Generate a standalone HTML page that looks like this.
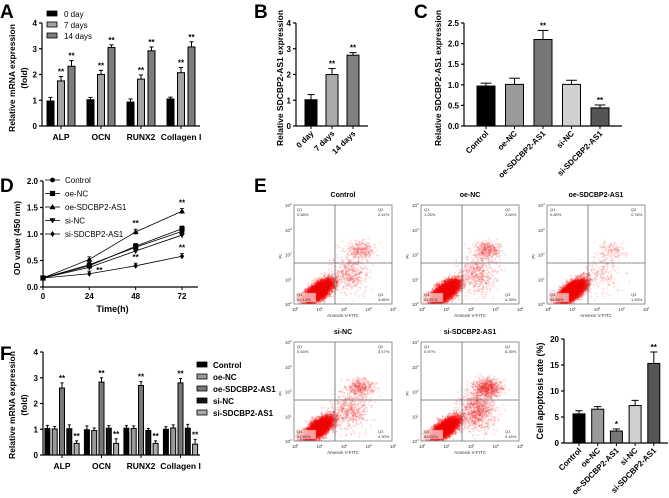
<!DOCTYPE html>
<html><head><meta charset="utf-8">
<style>
html,body{margin:0;padding:0;background:#fff;}
#wrap{position:relative;width:669px;height:498px;overflow:hidden;font-family:"Liberation Sans",Arial,sans-serif;}
svg{position:absolute;left:0;top:0;z-index:2;}
canvas{position:absolute;z-index:1;}
</style></head>
<body>
<div id="wrap">
<svg id="svg" width="669" height="498" viewBox="0 0 669 498"></svg>
</div>
<script>
// ---- Panel A data ----
const aGroups = ["ALP","OCN","RUNX2","Collagen I"];
const aSeries = ["0 day","7 days","14 days"];
const aValues = [[0.97,1.75,2.32],[1.02,2.0,3.05],[0.93,1.82,2.92],[1.05,2.07,3.07]];
const aErrors = [[0.14,0.17,0.22],[0.09,0.16,0.1],[0.12,0.16,0.15],[0.07,0.2,0.2]];
const aStars = [["","**","**"],["","**","**"],["","**","**"],["","**","**"]];
const aTicks = [0,1,2,3,4];
// ---- Panel B data ----
const bCats = ["0 day","7 days","14 days"];
const bValues = [1.02,2.0,2.75];
const bErrors = [0.2,0.23,0.1];
const bStars = ["","**","**"];
const bTicks = [0,1,2,3,4];
// ---- Panel C data ----
const cCats = ["Control","oe-NC","oe-SDCBP2-AS1","si-NC","si-SDCBP2-AS1"];
const cValues = [0.97,1.01,2.1,1.01,0.44];
const cErrors = [0.07,0.15,0.22,0.1,0.07];
const cStars = ["","","**","","**"];
const cTicks = [0,0.5,1.0,1.5,2.0,2.5];
// ---- Panel D data ----
const dTimes = [0,24,48,72];
const dSeries = ["Control","oe-NC","oe-SDCBP2-AS1","si-NC","si-SDCBP2-AS1"];
const dControl = [0.17,0.42,0.75,1.05];
const dOeNC = [0.17,0.40,0.77,1.10];
const dOeSD = [0.17,0.52,1.04,1.43];
const dSiNC = [0.17,0.37,0.68,0.98];
const dSiSD = [0.17,0.25,0.40,0.58];
const dYTicks = [0,0.5,1.0,1.5,2.0];
// ---- Panel E data ----
const eTitles = ["Control","oe-NC","oe-SDCBP2-AS1","si-NC","si-SDCBP2-AS1"];
const eQ1 = ["0.58%","1.26%","0.85%","0.64%","0.97%"];
const eQ2 = ["2.42%","2.84%","0.76%","3.17%","6.25%"];
const eQ3 = ["3.86%","4.39%","1.53%","4.30%","9.16%"];
const eQ4 = ["93.14%","91.51%","96.86%","91.89%","83.62%"];
const eRateValues = [5.6,6.5,2.3,7.2,15.3];
const eRateErrors = [0.6,0.5,0.4,1.0,2.2];
const eRateStars = ["","","*","","**"];
const eRateTicks = [0,5,10,15,20];
// ---- Panel F data ----
const fGroups = ["ALP","OCN","RUNX2","Collagen I"];
const fValues = [[1.03,1.01,2.6,1.02,0.45],[0.98,0.95,2.83,1.04,0.45],[1.04,1.03,2.7,0.95,0.45],[1.0,1.05,2.8,1.04,0.42]];
const fErrors = [[0.12,0.1,0.2,0.15,0.1],[0.15,0.1,0.17,0.1,0.18],[0.1,0.1,0.15,0.08,0.1],[0.1,0.12,0.17,0.15,0.18]];
const fStars = ["","","**","","**"];
const fTicks = [0,1,2,3,4];

const NS="http://www.w3.org/2000/svg";
const svg=document.getElementById('svg');
function el(tag,attrs,parent){const e=document.createElementNS(NS,tag);for(const k in attrs)e.setAttribute(k,attrs[k]);(parent||svg).appendChild(e);return e;}
function txt(s,x,y,opts,parent){const t=el('text',Object.assign({x:x,y:y,'font-family':'Liberation Sans, Arial, sans-serif','font-size':8,fill:'#000'},opts||{}),parent);t.textContent=s;return t;}
function lin(sc0,sc1,p0,p1){return v=>p0+(v-sc0)/(sc1-sc0)*(p1-p0);}

function panelLetter(s,x,y){const t=txt(s,x,y,{'font-size':19,'font-weight':'bold'});

}

function yAxis(g,x,y,ticks,top,fmt,name){
 const a=el('line',{x1:x,y1:y(ticks[0]),x2:x,y2:y(ticks[ticks.length-1]),stroke:'#000','stroke-width':1.2},g);
 
 
 ticks.forEach(v=>{el('line',{x1:x-3,y1:y(v),x2:x,y2:y(v),stroke:'#000','stroke-width':1.2},g);
  const t=txt(fmt(v),x-5,y(v)+3,{'text-anchor':'end','font-weight':'bold','font-size':8},g);
  
  });
}
function yTitle(g,lines,x,cy,name,fs){
 lines.forEach((s,i)=>{const t=txt(s,x+i*12,cy,{'text-anchor':'middle','font-weight':'bold','font-size':fs||9,transform:`rotate(-90 ${x+i*12} ${cy})`},g);
 
 });
}
function bar(g,cx,w,y,v,e,fill,star,name){
 const r=el('rect',{x:cx-w/2,y:y(v),width:w,height:y(0)-y(v),fill:fill,stroke:'#000','stroke-width':1},g);
 
 
 el('line',{x1:cx,y1:y(v),x2:cx,y2:y(v+e),stroke:'#000','stroke-width':1},g);
 el('line',{x1:cx-w*0.3,y1:y(v+e),x2:cx+w*0.3,y2:y(v+e),stroke:'#000','stroke-width':1},g);
 if(star){const s=txt(star,cx,y(v+e)-2,{'text-anchor':'middle','font-weight':'bold','font-size':8},g);
 
 }
}

// ===== Panel A =====
(function(){
 const g=el('g',{});
 
 
 panelLetter('A',0,18);
 const y=lin(0,4,126,23);
 yAxis(g,42,y,aTicks,0,v=>v,'panel-a');
 el('line',{x1:42,y1:126,x2:200,y2:126,stroke:'#000','stroke-width':1.2},g);
 yTitle(g,["Relative mRNA expression","(fold)"],15,78,'panel-a',8.5);
 const cols=['#000','#a3a3a3','#7d7d7d'];
 const centers=aGroups.map((_,i)=>61+i*40);
 aGroups.forEach((gn,i)=>{
  aSeries.forEach((s,j)=>bar(g,centers[i]+(j-1)*10.5,7,y,aValues[i][j],aErrors[i][j],cols[j],aStars[i][j],'bar-a-'+gn.toLowerCase().replace(' ','-')+'-'+j));
  el('line',{x1:centers[i],y1:126,x2:centers[i],y2:129,stroke:'#000'},g);
  const t=txt(gn,centers[i],140,{'text-anchor':'middle','font-weight':'bold','font-size':8.5},g);
  
  
 });
 aSeries.forEach((s,j)=>{
  const r=el('rect',{x:47,y:11+j*11,width:10,height:5,fill:cols[j],stroke:'#000','stroke-width':0.8},g);
  
  
  const t=txt(s,64,17+j*11,{'font-size':8},g);
  
  
 });
})();

// ===== Panel B =====
(function(){
 const g=el('g',{});
 
 
 panelLetter('B',254,18);
 const y=lin(0,4,126,23);
 yAxis(g,296,y,bTicks,0,v=>v,'panel-b');
 el('line',{x1:296,y1:126,x2:368,y2:126,stroke:'#000','stroke-width':1.2},g);
 yTitle(g,["Relative SDCBP2-AS1 expression"],283,78,'panel-b',8.5);
 const cols=['#000','#aaaaaa','#808080'];
 bCats.forEach((c,i)=>{const cx=311+i*21;
  bar(g,cx,12,y,bValues[i],bErrors[i],cols[i],bStars[i],'bar-b-'+i);
  el('line',{x1:cx,y1:126,x2:cx,y2:129,stroke:'#000'},g);
  const t=txt(c,cx+3,134,{'text-anchor':'end','font-weight':'bold','font-size':8,transform:`rotate(-45 ${cx+3} 134)`},g);
  
  });
})();

// ===== Panel C =====
(function(){
 const g=el('g',{});
 
 
 panelLetter('C',414,18);
 const y=lin(0,2.5,126,23);
 yAxis(g,464,y,cTicks,0,v=>v.toFixed(1),'panel-c');
 el('line',{x1:464,y1:126,x2:622,y2:126,stroke:'#000','stroke-width':1.2},g);
 yTitle(g,["Relative SDCBP2-AS1 expression"],441,78,'panel-c',8.5);
 const cols=['#000','#9a9a9a','#777','#d0d0d0','#555'];
 cCats.forEach((c,i)=>{const cx=486+i*28.5;
  bar(g,cx,18,y,cValues[i],cErrors[i],cols[i],cStars[i],'bar-c-'+c.toLowerCase());
  el('line',{x1:cx,y1:126,x2:cx,y2:129,stroke:'#000'},g);
  const t=txt(c,cx+3,134,{'text-anchor':'end','font-weight':'bold','font-size':8,transform:`rotate(-45 ${cx+3} 134)`},g);
  
  });
})();

// ===== Panel D =====
(function(){
 const g=el('g',{});
 
 
 panelLetter('D',0,192);
 const y=lin(0,2,287,181);
 const x=lin(0,72,43,182);
 yAxis(g,43,y,dYTicks,0,v=>v.toFixed(1),'panel-d');
 el('line',{x1:43,y1:287,x2:198,y2:287,stroke:'#000','stroke-width':1.2},g);
 dTimes.forEach(t=>{el('line',{x1:x(t),y1:287,x2:x(t),y2:290,stroke:'#000'},g);
  const l=txt(String(t),x(t),299,{'text-anchor':'middle','font-weight':'bold','font-size':8},g);
  
  });
 const xt=txt('Time(h)',x(36),312,{'text-anchor':'middle','font-weight':'bold','font-size':9},g);
 
 
 yTitle(g,["OD value (450 nm)"],20,238,'panel-d',8.5);
 const all=[dControl,dOeNC,dOeSD,dSiNC,dSiSD];
 const shapes=['circle','square','tri','tridown','diamond'];
 function marker(shape,cx,cy,pg){
  let m;
  if(shape==='circle')m=el('circle',{cx:cx,cy:cy,r:2.4,fill:'#000'},pg);
  else if(shape==='square')m=el('rect',{x:cx-2.6,y:cy-2.6,width:5.2,height:5.2,fill:'#000'},pg);
  else if(shape==='tri')m=el('polygon',{points:`${cx},${cy-3} ${cx-3},${cy+2.2} ${cx+3},${cy+2.2}`,fill:'#000'},pg);
  else if(shape==='tridown')m=el('polygon',{points:`${cx},${cy+3} ${cx-3},${cy-2.2} ${cx+3},${cy-2.2}`,fill:'#000'},pg);
  else m=el('polygon',{points:`${cx},${cy-3} ${cx+2.2},${cy} ${cx},${cy+3} ${cx-2.2},${cy}`,fill:'#000'},pg);
  return m;
 }
 all.forEach((s,k)=>{
  const pts=s.map((v,i)=>x(dTimes[i])+','+y(v)).join(' ');
  const pl=el('polyline',{points:pts,fill:'none',stroke:'#000','stroke-width':0.8},g);
  
  
  s.forEach((v,i)=>{
   if(i>0){el('line',{x1:x(dTimes[i]),y1:y(v-0.05),x2:x(dTimes[i]),y2:y(v+0.05),stroke:'#000','stroke-width':0.8},g);
    el('line',{x1:x(dTimes[i])-2,y1:y(v+0.05),x2:x(dTimes[i])+2,y2:y(v+0.05),stroke:'#000','stroke-width':0.8},g);}
   const m=marker(shapes[k],x(dTimes[i]),y(v),g);
   
   
  });
  const ly=180+k*13.5;
  el('line',{x1:45,y1:ly,x2:60,y2:ly,stroke:'#000','stroke-width':0.8},g);
  marker(shapes[k],52.5,ly,g);
  const lt=txt(dSeries[k],65,ly+3,{'font-size':8},g);
  
  
 });
 [[48,dOeSD],[72,dOeSD],[48,dSiSD],[72,dSiSD]].forEach(([t,s])=>{
  const i=dTimes.indexOf(t);
  const st=txt('**',x(t),y(s[i]+0.05)-3,{'text-anchor':'middle','font-weight':'bold','font-size':8},g);
  
  });
 const st=txt('**',x(24)+10,y(dSiSD[1])-1,{'text-anchor':'middle','font-weight':'bold','font-size':8},g);
 
 
})();

// ===== Panel F =====
(function(){
 const g=el('g',{});
 
 
 panelLetter('F',0,360);
 const y=lin(0,4,455,352);
 yAxis(g,43,y,fTicks,0,v=>v,'panel-f');
 el('line',{x1:43,y1:455,x2:200,y2:455,stroke:'#000','stroke-width':1.2},g);
 yTitle(g,["Relative mRNA expression","(fold)"],15,405,'panel-f',8.5);
 const cols=['#000','#9a9a9a','#777','#111','#aaa'];
 const names=["Control","oe-NC","oe-SDCBP2-AS1","si-NC","si-SDCBP2-AS1"];
 fGroups.forEach((gn,i)=>{const c=62+i*39.5;
  names.forEach((n,j)=>bar(g,c+(j-2)*7.3,5,y,fValues[i][j],fErrors[i][j],cols[j],fStars[j],'bar-f-'+gn.toLowerCase().replace(' ','-')+'-'+n.toLowerCase()));
  el('line',{x1:c,y1:455,x2:c,y2:458,stroke:'#000'},g);
  const t=txt(gn,c,469,{'text-anchor':'middle','font-weight':'bold','font-size':8.5},g);
  
  });
 names.forEach((n,j)=>{
  const r=el('rect',{x:197,y:362+j*12,width:10,height:5,fill:cols[j],stroke:'#000','stroke-width':0.8},g);
  
  
  const t=txt(n,213,368+j*12,{'font-size':8,'font-weight':'bold'},g);
  
  });
})();

// ===== Panel E =====
panelLetter('E',254,192);
const plotPos=[[294,205],[421,205],[547,205],[294,342],[421,342]];
const eQ2w=[0.03,0.035,0.01,0.04,0.075];
const eQ3w=[0.045,0.05,0.02,0.05,0.1];
function rng(seed){let s=seed;return()=>{s=(s*1664525+1013904223)>>>0;return s/4294967296;};}
function gauss(r){return Math.sqrt(-2*Math.log(r()+1e-9))*Math.cos(2*Math.PI*r());}
plotPos.forEach((p,k)=>{
 const [x0,y0]=p;const W=98,H=99;
 const g=el('g',{});
 
 
 const t=txt(eTitles[k],x0+W/2,y0-8,{'text-anchor':'middle','font-weight':'bold','font-size':7},g);
 
 
 const cv=document.createElement('canvas');cv.width=W;cv.height=H;cv.style.left=x0+'px';cv.style.top=y0+'px';
 
 
 document.getElementById('wrap').appendChild(cv);
 const c=cv.getContext('2d');
 const r=rng(17+k*101);
 const N=7000;
 for(let i=0;i<N;i++){
  const u=r();let px,py;
  if(u<eQ2w[k]*1.4){px=66+gauss(r)*7;py=45+gauss(r)*4.5;c.fillStyle='rgba(235,30,30,0.45)';}
  else if(u<eQ2w[k]*1.4+eQ3w[k]*1.4){px=56+gauss(r)*9;py=68+gauss(r)*10;c.fillStyle='rgba(235,30,30,0.45)';}
  else{const a=gauss(r)*8,b=gauss(r)*3.6;px=24+a*0.8+b*0.6;py=86-a*0.6+b*0.8;c.fillStyle='rgba(240,0,0,0.6)';}
  if(px<0||px>W||py<0||py>H)continue;
  c.fillRect(px,py,1,1);
 }
 c.fillStyle='rgba(255,200,200,0.8)';c.fillRect(2,H-11,20,9);
 const fr=el('rect',{x:x0,y:y0,width:W,height:H,fill:'none',stroke:'#777','stroke-width':0.8},g);
 
 
 el('line',{x1:x0+41,y1:y0,x2:x0+41,y2:y0+H,stroke:'#666','stroke-width':0.8},g);
 el('line',{x1:x0,y1:y0+58,x2:x0+W,y2:y0+58,stroke:'#666','stroke-width':0.8},g);
 const o={'font-size':4,fill:'#333'};
 txt('Q1',x0+3,y0+6,o,g);txt(eQ1[k],x0+3,y0+11,o,g);
 txt('Q2',x0+W-14,y0+6,o,g);txt(eQ2[k],x0+W-14,y0+11,o,g);
 txt('Q4',x0+3,y0+H-8,o,g);txt(eQ4[k],x0+3,y0+H-3,o,g);
 txt('Q3',x0+W-14,y0+H-8,o,g);txt(eQ3[k],x0+W-14,y0+H-3,o,g);
 for(let i=0;i<=4;i++){
  const tx=x0+i*W/4, ty=y0+H-i*H/4;
  txt('10',tx-2,y0+H+7,{'font-size':4.5,fill:'#333'},g);
  txt(String(i),tx+2.5,y0+H+5,{'font-size':3,fill:'#333'},g);
  txt('10',x0-9,ty+2,{'font-size':4.5,fill:'#333'},g);
  txt(String(i),x0-4,ty,{'font-size':3,fill:'#333'},g);
 }
 const xl=txt('Annexin V-FITC',x0+W/2,y0+H+13,{'text-anchor':'middle','font-size':4.5,fill:'#333'},g);
 
 
 const yl=txt('PI',x0-12,y0+H*0.52,{'text-anchor':'middle','font-size':4.5,fill:'#333',transform:`rotate(-90 ${x0-12} ${y0+H*0.52})`},g);
 
 
});

// apoptosis bar chart
(function(){
 const g=el('g',{});
 
 
 const y=lin(0,20,443,339);
 yAxis(g,564,y,eRateTicks,0,v=>v,'apoptosis');
 el('line',{x1:564,y1:443,x2:668,y2:443,stroke:'#000','stroke-width':1.2},g);
 yTitle(g,["Cell apoptosis rate (%)"],543,391,'apoptosis',9);
 const cols=['#000','#9a9a9a','#777','#d0d0d0','#555'];
 cCats.forEach((c,i)=>{const cx=579+i*18.7;
  bar(g,cx,12,y,eRateValues[i],eRateErrors[i],cols[i],eRateStars[i],'bar-apoptosis-'+c.toLowerCase());
  el('line',{x1:cx,y1:443,x2:cx,y2:446,stroke:'#000'},g);
  const t=txt(c,cx+3,451,{'text-anchor':'end','font-weight':'bold','font-size':8,transform:`rotate(-45 ${cx+3} 451)`},g);
  
  });
})();
</script>
</body></html>
